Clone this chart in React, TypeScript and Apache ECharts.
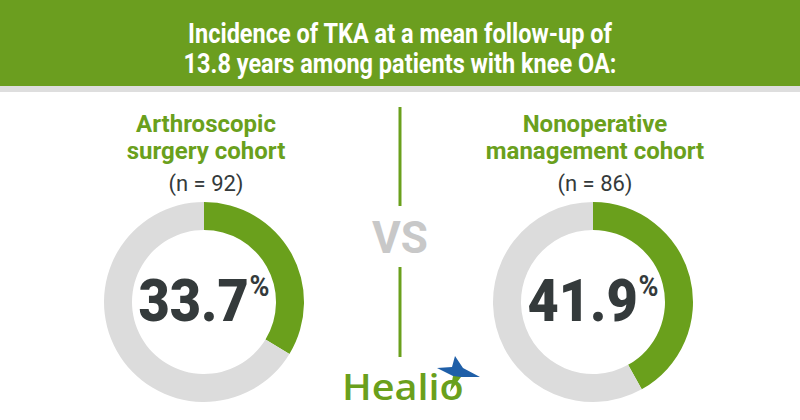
import React, { useEffect, useRef } from "react";
import * as echarts from "echarts";

const titleLines = ["Incidence of TKA at a mean follow-up of", "13.8 years among patients with knee OA:"];
const cohortNames = [["Arthroscopic", "surgery cohort"], ["Nonoperative", "management cohort"]];
const cohortN = [92, 86];
const tkaPercent = [33.7, 41.9];

const GREEN = "#6aa01c";
const HEADER_GREEN = "#6b9e1f";
const RING_GRAY = "#dcdcdc";
const DARK = "#343a3b";
const centersX = [204, 593];
const centerY = 302;

export default function App() {
  const ref = useRef<HTMLDivElement>(null);
  useEffect(() => {
    const chart = echarts.init(ref.current!, undefined, { renderer: "svg" });
    const series: any[] = tkaPercent.map((v, i) => ({
      type: "pie",
      center: [centersX[i], centerY],
      radius: [72, 100],
      startAngle: 90,
      clockwise: true,
      silent: true,
      label: { show: false },
      labelLine: { show: false },
      data: [
        { value: v, name: "TKA", itemStyle: { color: GREEN } },
        { value: +(100 - v).toFixed(1), name: "No TKA", itemStyle: { color: RING_GRAY } },
      ],
    }));
    const graphic: any[] = [
      { type: "rect", shape: { x: 0, y: 0, width: 800, height: 86 }, style: { fill: HEADER_GREEN } },
      { type: "rect", shape: { x: 0, y: 86, width: 800, height: 6 }, style: { fill: "#dedede" } },
      ...titleLines.map((t, i) => ({
        type: "text",
        x: 400,
        y: 33 + i * 30,
        scaleX: 0.84,
        style: {
          text: t,
          fill: "#ffffff",
          font: "bold 28px Roboto, sans-serif",
          textAlign: "center",
          textVerticalAlign: "middle",
        },
      })),
    ];
    cohortNames.forEach((lines, i) => {
      lines.forEach((t, j) => {
        graphic.push({
          type: "text",
          x: centersX[i] + 2,
          y: 124 + j * 27,
          style: {
            text: t,
            fill: GREEN,
            font: "bold 24px Roboto, sans-serif",
            textAlign: "center",
            textVerticalAlign: "middle",
          },
        });
      });
      graphic.push({
        type: "text",
        x: centersX[i] + 2,
        y: 183,
        style: {
          text: `(n = ${cohortN[i]})`,
          fill: DARK,
          font: "22px Roboto, sans-serif",
          textAlign: "center",
          textVerticalAlign: "middle",
        },
      });
      graphic.push({
        type: "text",
        x: centersX[i],
        y: centerY - 1,
        scaleX: 0.9,
        style: {
          text: `{n|${tkaPercent[i]}}{p|%}`,
          textAlign: "center",
          textVerticalAlign: "middle",
          rich: {
            n: { font: "900 60px Roboto, sans-serif", fill: DARK, lineHeight: 60 },
            p: { font: "bold 30px Roboto, sans-serif", fill: DARK, verticalAlign: "top", lineHeight: 60, padding: [0, 0, 20, 1] },
          },
        },
      });
    });
    graphic.push(
      { type: "line", shape: { x1: 400, y1: 107, x2: 400, y2: 206 }, style: { stroke: GREEN, lineWidth: 3 } },
      { type: "line", shape: { x1: 400, y1: 267, x2: 400, y2: 357 }, style: { stroke: GREEN, lineWidth: 3 } },
      {
        type: "text",
        x: 400,
        y: 238,
        style: {
          text: "VS",
          fill: "#c8c8c8",
          font: "bold 44px Roboto, sans-serif",
          textAlign: "center",
          textVerticalAlign: "middle",
        },
      },
      {
        type: "text",
        x: 342,
        y: 386,
        scaleX: 1.1,
        style: {
          text: "Healio",
          fill: GREEN,
          font: "600 36px 'Open Sans', sans-serif",
          textAlign: "left",
          textVerticalAlign: "middle",
        },
      },
      {
        type: "polygon",
        shape: {
          points: [
            [455, 356], [463, 368], [480, 377], [461, 377], [456, 378], [453, 376], [437, 368], [452, 367],
          ],
        },
        style: { fill: "#1f5fa8" },
      },
      {
        type: "polygon",
        shape: { points: [[453, 376], [461, 377], [458, 381], [450, 392]] },
        style: { fill: GREEN },
      }
    );
    chart.setOption({ animation: false, series, graphic });
    return () => chart.dispose();
  }, []);
  return (
    <div
      ref={ref}
      style={{ position: "fixed", left: 0, top: 0, width: 800, height: 420, background: "#ffffff" }}
    />
  );
}
